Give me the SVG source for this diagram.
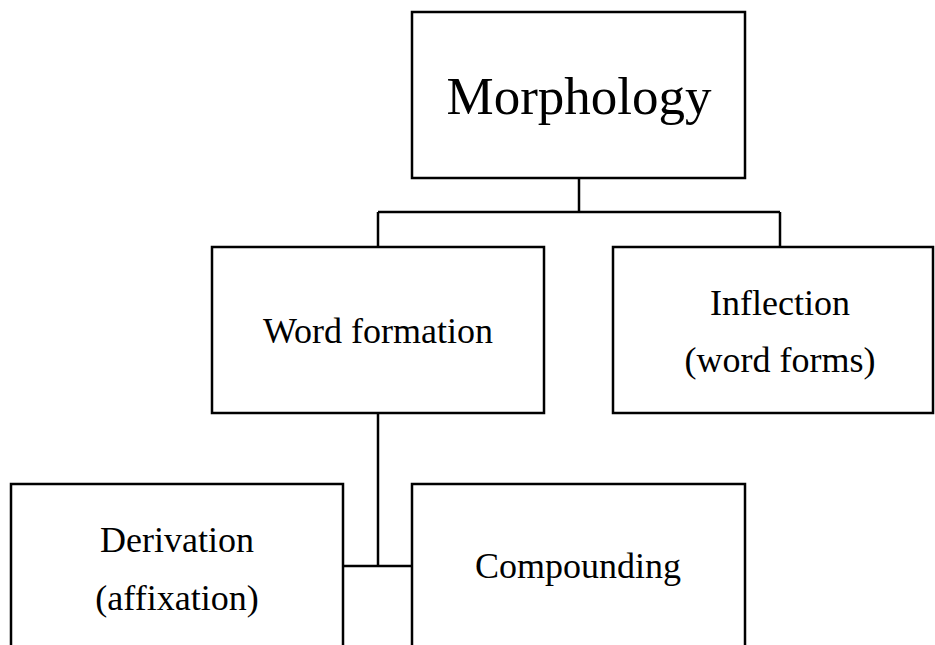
<svg xmlns="http://www.w3.org/2000/svg" width="935" height="645" viewBox="0 0 935 645">
<style>
rect{fill:#fff;stroke:#000;stroke-width:2.5}
.c line{stroke:#000;stroke-width:2.5}
text{font-family:"Liberation Serif","Times New Roman",serif;fill:#000;text-anchor:middle;font-size:36px}
</style>
<rect width="935" height="645" style="stroke:none"/>
<g class="c" id="connectors">
<line x1="579" y1="178" x2="579" y2="212"/>
<line x1="378" y1="212" x2="780" y2="212"/>
<line x1="378" y1="212" x2="378" y2="247"/>
<line x1="780" y1="212" x2="780" y2="247"/>
<line x1="378" y1="413" x2="378" y2="566"/>
<line x1="343" y1="566" x2="412" y2="566"/>
</g>
<g id="morphology">
<rect x="412" y="12" width="333" height="166"/>
<text x="579" y="114" style="font-size:53px">Morphology</text>
</g>
<g id="word-formation">
<rect x="212" y="247" width="332" height="166"/>
<text x="378" y="343">Word formation</text>
</g>
<g id="inflection">
<rect x="613" y="247" width="320" height="166"/>
<text x="780" y="315">Inflection</text>
<text x="780" y="372">(word forms)</text>
</g>
<g id="derivation">
<rect x="11" y="484" width="332" height="180"/>
<text x="177" y="552">Derivation</text>
<text x="177" y="610">(affixation)</text>
</g>
<g id="compounding">
<rect x="412" y="484" width="333" height="180"/>
<text x="578" y="578">Compounding</text>
</g>
</svg>
